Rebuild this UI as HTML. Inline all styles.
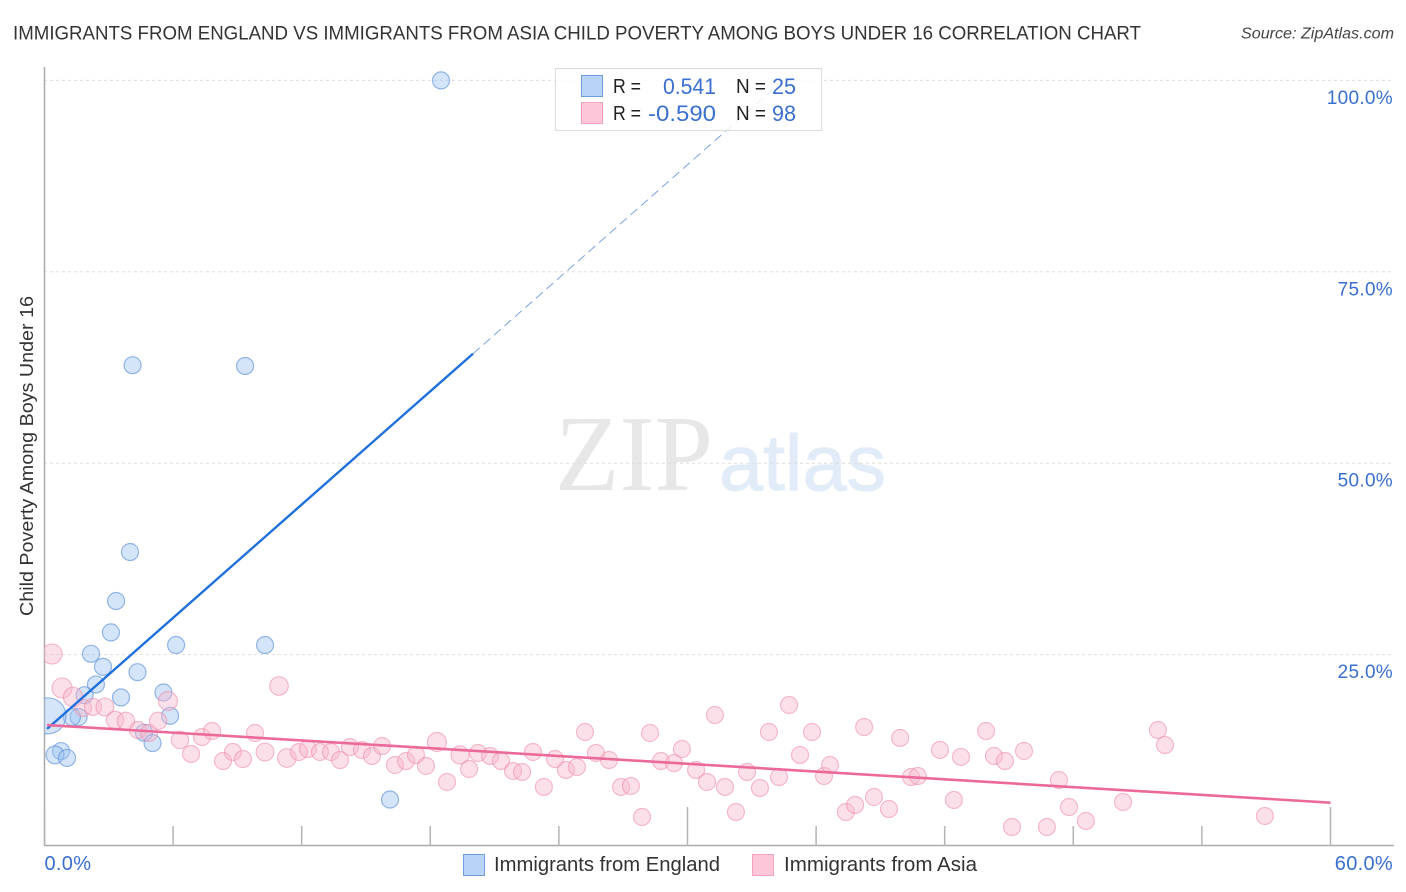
<!DOCTYPE html>
<html lang="en">
<head>
<meta charset="utf-8">
<title>Immigrants from England vs Immigrants from Asia Child Poverty Correlation Chart</title>
<style>
  html, body { margin: 0; padding: 0; background: #fff; }
  svg { display: block; font-family: "Liberation Sans", sans-serif; }
</style>
</head>
<body>
<svg id="chart" xmlns="http://www.w3.org/2000/svg" width="1406" height="892" viewBox="0 0 1406 892">
  <defs>
    <clipPath id="plot-clip"><rect x="44" y="60" width="1350" height="786"></rect></clipPath>
  </defs>
  <rect x="0" y="0" width="1406" height="892" fill="#ffffff"></rect>

  <text x="13" y="39.5" font-size="19" fill="#333333" textLength="1128" lengthAdjust="spacingAndGlyphs">IMMIGRANTS FROM ENGLAND VS IMMIGRANTS FROM ASIA CHILD POVERTY AMONG BOYS UNDER 16 CORRELATION CHART</text>
  <text x="1394" y="38.5" font-size="15.5" font-style="italic" fill="#444444" text-anchor="end" textLength="153" lengthAdjust="spacingAndGlyphs">Source: ZipAtlas.com</text>

  <g>
    <text x="555" y="490" font-family="'Liberation Serif', serif" font-size="108" fill="#e7e7e7" textLength="158" lengthAdjust="spacingAndGlyphs">ZIP</text>
    <text x="719" y="490" font-size="79" fill="#e2ecf9" stroke="#e2ecf9" stroke-width="1" textLength="167" lengthAdjust="spacingAndGlyphs">atlas</text>
  </g>

  <g id="grid"></g>
  <g id="axes"></g>
  <g id="points" clip-path="url(#plot-clip)"></g>
  <g id="trends"></g>
  <g id="ticklabels"></g>

  <text transform="translate(33 456) rotate(-90)" font-size="18.5" fill="#333333" text-anchor="middle" textLength="320" lengthAdjust="spacingAndGlyphs">Child Poverty Among Boys Under 16</text>

  <g>
    <rect x="555.5" y="68.5" width="266" height="62" fill="#ffffff" fill-opacity="0.82" stroke="#dddddd" stroke-width="1.2"></rect>
    <rect x="581.5" y="75.5" width="21" height="21" fill="#b8d3f5" stroke="#6f9fdc" stroke-width="1"></rect>
    <rect x="581.5" y="102.5" width="21" height="21" fill="#fdc7d9" stroke="#f3a3bd" stroke-width="1"></rect>
    <g font-size="20" fill="#222222">
      <text x="613" y="93" textLength="28" lengthAdjust="spacingAndGlyphs">R =</text>
      <text x="736" y="93" textLength="30" lengthAdjust="spacingAndGlyphs">N =</text>
      <text x="613" y="120" textLength="28" lengthAdjust="spacingAndGlyphs">R =</text>
      <text x="736" y="120" textLength="30" lengthAdjust="spacingAndGlyphs">N =</text>
    </g>
    <g font-size="22" fill="#3a6fcf">
      <text x="663" y="94" textLength="53" lengthAdjust="spacingAndGlyphs">0.541</text>
      <text x="772" y="94" textLength="24" lengthAdjust="spacingAndGlyphs">25</text>
      <text x="648" y="121" textLength="68" lengthAdjust="spacingAndGlyphs">-0.590</text>
      <text x="772" y="121" textLength="24" lengthAdjust="spacingAndGlyphs">98</text>
    </g>
  </g>

  <g>
    <rect x="463.5" y="854.5" width="21" height="21" fill="#b8d3f5" stroke="#6f9fdc" stroke-width="1"></rect>
    <text x="494" y="871" font-size="20" fill="#333333" textLength="226" lengthAdjust="spacingAndGlyphs">Immigrants from England</text>
    <rect x="752.5" y="854.5" width="21" height="21" fill="#fdc7d9" stroke="#f3a3bd" stroke-width="1"></rect>
    <text x="784" y="871" font-size="20" fill="#333333" textLength="193" lengthAdjust="spacingAndGlyphs">Immigrants from Asia</text>
  </g>
</svg>

<script>
const yTickValues = [25, 50, 75, 100];
const yTickLabels = ["25.0%", "50.0%", "75.0%", "100.0%"];
const xTickValues = [0, 6, 12, 18, 24, 30, 36, 42, 48, 54, 60];
const xMajorTicks = [0, 30, 60];
const xEdgeValues = [0, 60];
const xEdgeLabels = ["0.0%", "60.0%"];

const englandX = [18.50, 4.11, 9.36, 3.99, 3.34, 3.10, 6.14, 10.29, 2.17, 2.73, 4.34, 2.40, 1.87, 3.57, 5.55, 5.86, 1.59, 1.28, 0.16, 4.64, 5.04, 0.77, 0.49, 1.05, 16.12];
const englandY = [100, 62.8, 62.7, 38.4, 32.0, 27.9, 26.25, 26.25, 25.1, 23.4, 22.7, 21.1, 19.7, 19.4, 20.05, 17.0, 16.85, 16.85, 17.0, 14.8, 13.45, 12.4, 11.9, 11.5, 6.07];
const englandWeight = [1, 1, 1, 1, 1, 1, 1, 1, 1, 1, 1, 1, 1, 1, 1, 1, 1, 1, 4.5, 1, 1, 1, 1.1, 1, 1];

const asiaX = [0.35, 0.82, 1.33, 1.80, 2.26, 2.82, 3.29, 3.80, 4.36, 4.88, 5.30, 5.76, 6.32, 6.84, 7.35, 7.82, 8.33, 8.79, 9.26, 9.82, 10.29, 10.94, 11.31, 11.87, 12.29, 12.85, 13.37, 13.79, 14.25, 14.81, 15.28, 15.75, 16.35, 16.87, 17.33, 17.80, 18.31, 18.78, 19.39, 19.81, 20.23, 20.79, 21.30, 21.86, 22.28, 22.79, 23.30, 23.82, 24.33, 24.84, 25.22, 25.73, 26.34, 26.90, 27.36, 27.88, 28.25, 28.76, 29.37, 29.74, 30.40, 30.91, 31.28, 31.75, 32.26, 32.78, 33.38, 33.80, 34.27, 34.74, 35.25, 35.81, 36.37, 36.65, 37.39, 37.82, 38.24, 38.70, 39.40, 39.92, 40.43, 40.75, 41.78, 42.43, 42.76, 43.93, 44.30, 44.81, 45.14, 45.70, 46.77, 47.33, 47.80, 48.59, 50.32, 51.95, 52.28, 56.94];
const asiaY = [25.08, 20.64, 19.46, 18.03, 18.16, 18.16, 16.46, 16.33, 15.15, 14.76, 16.33, 18.94, 13.85, 12.02, 14.24, 15.02, 11.10, 12.28, 11.36, 14.76, 12.28, 20.90, 11.49, 12.28, 12.67, 12.28, 12.28, 11.23, 12.93, 12.54, 11.76, 13.06, 10.58, 11.10, 11.89, 10.45, 13.58, 8.36, 11.89, 10.06, 12.15, 11.76, 11.10, 9.80, 9.67, 12.28, 7.71, 11.36, 9.93, 10.32, 14.89, 12.15, 11.23, 7.71, 7.84, 3.79, 14.76, 11.10, 10.84, 12.67, 9.93, 8.36, 17.11, 7.71, 4.44, 9.67, 7.58, 14.89, 9.01, 18.42, 11.89, 14.89, 9.14, 10.58, 4.44, 5.36, 15.54, 6.40, 4.83, 14.11, 9.01, 9.14, 12.54, 6.01, 11.63, 15.02, 11.76, 11.10, 2.48, 12.41, 2.48, 8.62, 5.09, 3.27, 5.75, 15.15, 13.19, 3.92];
const asiaWeight = [1.4, 1.4, 1.3, 1, 1, 1.1, 1.05, 1.05, 1, 1, 1.05, 1.25, 1.05, 1, 1, 1, 1, 1, 1, 1, 1.1, 1.2, 1.2, 1, 1, 1, 1, 1, 1, 1, 1, 1, 1, 1, 1, 1, 1.25, 1, 1.15, 1, 1, 1, 1, 1, 1, 1, 1, 1, 1, 1, 1, 1, 1, 1, 1, 1, 1, 1, 1, 1, 1, 1, 1, 1, 1, 1, 1, 1, 1, 1, 1, 1, 1, 1, 1, 1, 1, 1, 1, 1, 1, 1, 1, 1, 1, 1, 1, 1, 1, 1, 1, 1, 1, 1, 1, 1, 1, 1];

const englandTrendSolidX = [0.12, 19.99];
const englandTrendSolidY = [15.3, 64.3];
const englandTrendDashX = [19.99, 34.47];
const englandTrendDashY = [64.3, 100];
const asiaTrendX = [0.12, 60];
const asiaTrendY = [15.8, 5.66];

const NS = "http://www.w3.org/2000/svg";
function xScale(v) { return 44.5 + v * 21.433; }
function yScale(v) { return 846 - v * 7.656; }
function radiusScale(w) { return 8.5 * Math.sqrt(w); }
function make(tag, attrs, parent) {
  const el = document.createElementNS(NS, tag);
  for (const k in attrs) el.setAttribute(k, attrs[k]);
  parent.appendChild(el);
  return el;
}

const gridLayer = document.getElementById("grid");
const axesLayer = document.getElementById("axes");
const pointsLayer = document.getElementById("points");
const trendsLayer = document.getElementById("trends");
const labelsLayer = document.getElementById("ticklabels");

yTickValues.forEach(function (v, i) {
  const y = yScale(v);
  const line = make("line", { x1: 44, x2: 1394, y1: y, y2: y, stroke: "#dedede", "stroke-width": 1, "stroke-dasharray": "3 3" }, gridLayer);
  
  
  const label = make("text", { x: 1393, y: y + 23.5, "font-size": 19, fill: "#3a6fcf", "text-anchor": "end", "letter-spacing": "0.3" }, labelsLayer);
  
  
  label.textContent = yTickLabels[i];
});

const yAxisLine = make("line", { x1: 44.5, x2: 44.5, y1: 67, y2: 846, stroke: "#aaaaaa", "stroke-width": 1.5 }, axesLayer);


const xAxisLine = make("line", { x1: 44, x2: 1394, y1: 845.5, y2: 845.5, stroke: "#aaaaaa", "stroke-width": 1.5 }, axesLayer);



xTickValues.forEach(function (v) {
  const x = xScale(v);
  const top = xMajorTicks.indexOf(v) >= 0 ? 807 : 826;
  const tick = make("line", { x1: x, x2: x, y1: top, y2: 846, stroke: "#b4b4b4", "stroke-width": 1.5 }, axesLayer);
  
  
});

xEdgeValues.forEach(function (v, i) {
  const isLast = i === xEdgeValues.length - 1;
  const label = make("text", { x: isLast ? 1393 : xScale(v), y: 870, "font-size": 20, fill: "#3a6fcf", "text-anchor": isLast ? "end" : "start", "letter-spacing": "0.3" }, labelsLayer);
  
  
  label.textContent = xEdgeLabels[i];
});

englandX.forEach(function (v, i) {
  const c = make("circle", { cx: xScale(v), cy: yScale(englandY[i]), r: radiusScale(englandWeight[i]), fill: "#9cc2f0", "fill-opacity": 0.42, stroke: "#5f92d8", "stroke-opacity": 0.65, "stroke-width": 1.2 }, pointsLayer);
  
  
});

asiaX.forEach(function (v, i) {
  const c = make("circle", { cx: xScale(v), cy: yScale(asiaY[i]), r: radiusScale(asiaWeight[i]), fill: "#f9b4cb", "fill-opacity": 0.42, stroke: "#ec88aa", "stroke-opacity": 0.55, "stroke-width": 1.2 }, pointsLayer);
  
  
});

const englandDash = make("line", { x1: xScale(englandTrendDashX[0]), y1: yScale(englandTrendDashY[0]), x2: xScale(englandTrendDashX[1]), y2: yScale(englandTrendDashY[1]), stroke: "#7ba2dd", "stroke-width": 1, "stroke-dasharray": "9 5" }, trendsLayer);


const englandSolid = make("line", { x1: xScale(englandTrendSolidX[0]), y1: yScale(englandTrendSolidY[0]), x2: xScale(englandTrendSolidX[1]), y2: yScale(englandTrendSolidY[1]), stroke: "#1f6fdc", "stroke-width": 2.4 }, trendsLayer);


const asiaTrend = make("line", { x1: xScale(asiaTrendX[0]), y1: yScale(asiaTrendY[0]), x2: xScale(asiaTrendX[1]), y2: yScale(asiaTrendY[1]), stroke: "#ec6a9a", "stroke-width": 2.6 }, trendsLayer);


</script>
</body>
</html>
